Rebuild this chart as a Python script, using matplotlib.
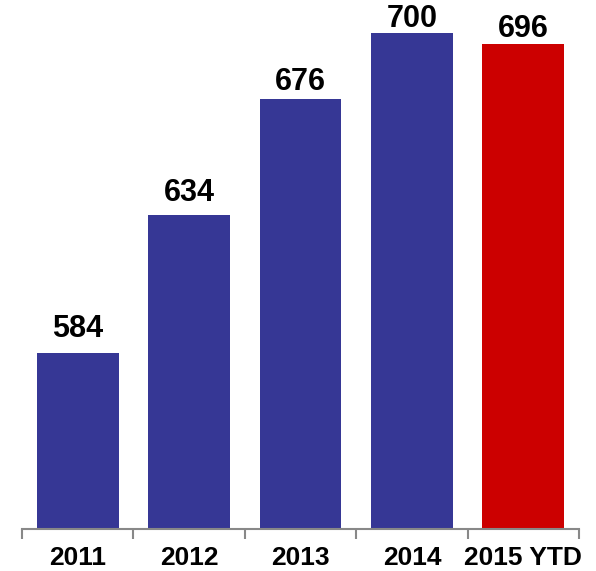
import matplotlib.pyplot as plt

years = ['2011', '2012', '2013', '2014', '2015 YTD']
counts = [584, 634, 676, 700, 696]
colors = ['#363795', '#363795', '#363795', '#363795', '#cc0000']

plt.rcParams['font.family'] = ['Liberation Sans', 'DejaVu Sans']

fig = plt.figure(figsize=(5.96, 5.71), dpi=100)
ax = fig.add_axes([22 / 596, 1 - 529 / 571, 557 / 596, 529 / 571])

x = range(len(years))
ax.bar(x, counts, width=0.735, color=colors)
ax.set_xlim(-0.5, len(years) - 0.5)
ymax = 712
ax.set_ylim(520.2, ymax)

# value labels, squeezed closer to the bar near the top of the plot
for i, v in enumerate(counts):
    off = min(9, (ymax - v - 16) * 0.12)
    ax.annotate(str(v), (i, v), xytext=(0, off * 0.72), textcoords='offset points',
                ha='center', va='bottom', fontsize=22, fontweight='bold')

for s in ['top', 'right', 'left']:
    ax.spines[s].set_visible(False)
ax.spines['bottom'].set_color('#888888')
ax.spines['bottom'].set_linewidth(1.5)
ax.set_yticks([])

ax.set_xticks([i - 0.5 for i in range(len(years) + 1)], minor=False)
ax.set_xticklabels([])
ax.tick_params(axis='x', which='major', length=7, width=1.5, color='#888888')
ax.set_xticks(list(x), minor=True)
ax.set_xticklabels(years, minor=True, fontsize=19, fontweight='bold')
ax.tick_params(axis='x', which='minor', length=0, pad=12)

fig.savefig('out.png', dpi=100)
